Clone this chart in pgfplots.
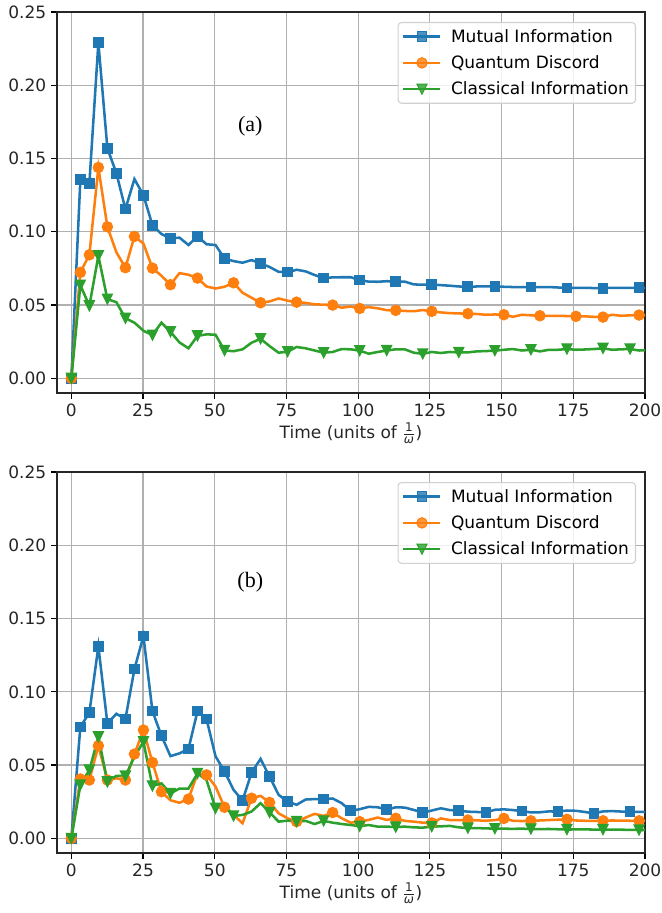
\documentclass[border=0pt]{standalone}
\usepackage{fontspec}
\setmainfont{DejaVu Sans}
\newfontfamily\panelfont{Liberation Serif}
\usepackage{pgfplots}
\usepackage{pgfplotstable}
\pgfplotsset{compat=1.18}

\definecolor{miblue}{HTML}{1F77B4}
\definecolor{qdorange}{HTML}{FF7F0E}
\definecolor{cigreen}{HTML}{2CA02C}
\definecolor{gridgray}{HTML}{B0B0B0}

% downward triangle, as drawn by matplotlib's 'v' marker
\pgfdeclareplotmark{vtri}{%
  \pgfpathmoveto{\pgfqpoint{0pt}{-\pgfplotmarksize}}%
  \pgfpathlineto{\pgfqpoint{-\pgfplotmarksize}{\pgfplotmarksize}}%
  \pgfpathlineto{\pgfqpoint{\pgfplotmarksize}{\pgfplotmarksize}}%
  \pgfpathclose
  \pgfusepathqfillstroke}

% time (in units of 1/omega) and the three correlations, case (a)
\pgfplotstableread{
t        mi      qd      ci
0        0       0       0
3.1416   0.1355  0.0723  0.0636
6.2832   0.1330  0.0843  0.0495
9.4248   0.2290  0.1439  0.0836
12.566   0.1570  0.1034  0.0540
15.708   0.1400  0.0860  0.0520
18.850   0.1155  0.0755  0.0410
21.991   0.1360  0.0968  0.0380
25.133   0.1250  0.0920  0.0325
28.274   0.1045  0.0752  0.0295
31.416   0.0985  0.0700  0.0380
34.558   0.0955  0.0639  0.0318
37.699   0.0960  0.0718  0.0245
40.841   0.0910  0.0707  0.0205
43.982   0.0970  0.0684  0.0290
47.124   0.0915  0.0627  0.0300
50.265   0.0910  0.0613  0.0298
53.407   0.0818  0.0625  0.0190
56.549   0.0800  0.0652  0.0185
59.690   0.0789  0.0584  0.0198
62.832   0.0807  0.0550  0.0243
65.973   0.0784  0.0516  0.0270
69.115   0.0760  0.0525  0.0220
72.257   0.0727  0.0545  0.0175
75.398   0.0725  0.0530  0.0182
78.540   0.0741  0.0520  0.0214
81.681   0.0730  0.0515  0.0205
84.823   0.0705  0.0505  0.0190
87.965   0.0684  0.0503  0.0175
91.106   0.0689  0.0500  0.0180
94.248   0.0690  0.0482  0.0200
97.389   0.0690  0.0490  0.0198
100.531  0.0670  0.0477  0.0189
103.673  0.0660  0.0486  0.0168
106.814  0.0659  0.0478  0.0180
109.956  0.0663  0.0465  0.0190
113.097  0.0659  0.0464  0.0198
116.239  0.0660  0.0460  0.0198
119.381  0.0641  0.0458  0.0175
122.522  0.0639  0.0466  0.0167
125.664  0.0641  0.0457  0.0180
128.805  0.0636  0.0450  0.0173
131.947  0.0632  0.0445  0.0180
135.088  0.0627  0.0443  0.0177
138.230  0.0625  0.0441  0.0177
141.372  0.0627  0.0439  0.0184
144.513  0.0627  0.0434  0.0186
147.655  0.0627  0.0436  0.0189
150.796  0.0625  0.0434  0.0195
153.938  0.0623  0.0420  0.0200
157.080  0.0623  0.0434  0.0190
160.221  0.0623  0.0430  0.0195
163.363  0.0622  0.0427  0.0184
166.504  0.0623  0.0427  0.0195
169.646  0.0620  0.0427  0.0195
172.788  0.0616  0.0425  0.0200
175.929  0.0618  0.0423  0.0195
179.071  0.0618  0.0423  0.0197
182.212  0.0616  0.0420  0.0200
185.354  0.0615  0.0418  0.0205
188.496  0.0618  0.0434  0.0195
191.637  0.0618  0.0427  0.0198
194.779  0.0618  0.0430  0.0200
197.920  0.0618  0.0432  0.0190
201.062  0.0618  0.0430  0.0192
}\caseA

% case (b)
\pgfplotstableread{
t        mi      qd      ci
0        0       0       0
3.1416   0.0761  0.0405  0.0364
6.2832   0.0857  0.0398  0.0466
9.4248   0.1310  0.0632  0.0693
12.566   0.0784  0.0398  0.0386
15.708   0.0850  0.0410  0.0427
18.850   0.0814  0.0398  0.0425
21.991   0.1155  0.0575  0.0557
25.133   0.1380  0.0739  0.0659
28.274   0.0868  0.0518  0.0357
31.416   0.0700  0.0318  0.0375
34.558   0.0561  0.0260  0.0307
37.699   0.0580  0.0243  0.0340
40.841   0.0610  0.0268  0.0340
43.982   0.0868  0.0443  0.0443
47.124   0.0815  0.0433  0.0398
50.265   0.0560  0.0354  0.0205
53.407   0.0457  0.0212  0.0228
56.549   0.0331  0.0160  0.0153
59.690   0.0258  0.0103  0.0160
62.832   0.0449  0.0274  0.0183
65.973   0.0542  0.0290  0.0240
69.115   0.0421  0.0245  0.0177
72.257   0.0297  0.0171  0.0114
75.398   0.0251  0.0137  0.0121
78.540   0.0229  0.0114  0.0115
81.681   0.0265  0.0142  0.0119
84.823   0.0268  0.0167  0.0098
87.965   0.0268  0.0153  0.0119
91.106   0.0272  0.0176  0.0107
94.248   0.0240  0.0137  0.0098
97.389   0.0188  0.0107  0.0091
100.531  0.0199  0.0114  0.0083
103.673  0.0215  0.0126  0.0091
106.814  0.0212  0.0142  0.0080
109.956  0.0196  0.0126  0.0080
113.097  0.0212  0.0137  0.0077
116.239  0.0210  0.0119  0.0080
119.381  0.0194  0.0114  0.0075
122.522  0.0176  0.0107  0.0073
125.664  0.0190  0.0105  0.0080
128.805  0.0205  0.0136  0.0082
131.947  0.0193  0.0125  0.0085
135.088  0.0189  0.0125  0.0075
138.230  0.0182  0.0125  0.0070
141.372  0.0180  0.0123  0.0070
144.513  0.0177  0.0120  0.0068
147.655  0.0195  0.0125  0.0066
150.796  0.0198  0.0136  0.0066
153.938  0.0193  0.0120  0.0065
157.080  0.0186  0.0118  0.0066
160.221  0.0177  0.0120  0.0064
163.363  0.0178  0.0122  0.0063
166.504  0.0184  0.0125  0.0064
169.646  0.0182  0.0127  0.0062
172.788  0.0190  0.0130  0.0060
175.929  0.0188  0.0122  0.0061
179.071  0.0180  0.0120  0.0061
182.212  0.0170  0.0120  0.0060
185.354  0.0184  0.0120  0.0060
188.496  0.0186  0.0122  0.0059
191.637  0.0183  0.0121  0.0059
194.779  0.0182  0.0120  0.0058
197.920  0.0180  0.0120  0.0057
201.062  0.0180  0.0120  0.0057
}\caseB

\pgfplotsset{
  corrpanel/.style={
    scale only axis,
    width=441pt, height=285.75pt,
    xmin=-5, xmax=200, ymin=-0.01, ymax=0.25,
    xtick={0,25,50,75,100,125,150,175,200},
    ytick={0,0.05,0.10,0.15,0.20,0.25},
    scaled y ticks=false,
    xtick pos=bottom, ytick pos=left,
    tick align=outside,
    major tick length=4.5pt,
    every tick/.style={black, line width=0.9pt},
    axis line style={black!85, line width=0.9pt},
    grid=major,
    major grid style={gridgray, line width=0.9pt},
    font=\fontsize{12.75}{15}\selectfont,
    xticklabel style={/pgf/number format/assume math mode=true, text=black!85},
    yticklabel style={/pgf/number format/.cd, fixed, fixed zerofill,
      precision=2, assume math mode=true, /tikz/.cd, text=black!85},
    xlabel={Time (units of $\frac{\mbox{\fontsize{9}{9}\selectfont 1}}{\mbox{\fontsize{9}{9}\selectfont\itshape ω}}$)},
    xlabel style={text=black!85, yshift=2pt},
    legend cell align=left,
    legend style={at={(1,1)}, anchor=north east, xshift=-6.75pt, yshift=-7.5pt,
      draw=black!18, line width=0.8pt, rounded corners=2.5pt,
      fill=white, fill opacity=0.8, text opacity=1,
      font=\fontsize{12.75}{15}\selectfont, text=black,
      row sep=4.5pt, inner xsep=3pt, inner ysep=3pt,
      /tikz/every odd column/.append style={column sep=5pt}},
    legend image code/.code={%
      \draw[mark indices={2}]
        plot coordinates {(0pt,0pt) (13.9pt,0pt) (27.75pt,0pt)};},
    clip=true,
  },
  mi/.style={miblue, line width=1.9pt, mark=square*, mark size=3.6pt,
    mark options={solid, line width=0.8pt, fill=miblue}},
  qd/.style={qdorange, line width=1.9pt, mark=*, mark size=3.9pt,
    mark options={solid, line width=0.8pt, fill=qdorange}},
  ci/.style={cigreen, line width=1.9pt, mark=vtri, mark size=3.8pt,
    mark options={solid, line width=0.8pt, fill=cigreen}},
}

\begin{document}
\begin{tikzpicture}
\useasboundingbox (-42.75pt,-390pt) rectangle (453pt,294.75pt);

\begin{axis}[corrpanel]
  \addplot[mi, mark indices={1,2,3,4,5,6,7,9,10,12,15,18,22,25,29,33,37,41,45,48,52,56,60,64}]
    table[x=t, y=mi] {\caseA};
  \addlegendentry{Mutual Information}
  \addplot[qd, mark indices={1,2,3,4,5,7,8,10,12,15,19,22,26,30,33,37,41,45,49,53,57,60,64}]
    table[x=t, y=qd] {\caseA};
  \addlegendentry{Quantum Discord}
  \addplot[ci, mark indices={1,2,3,4,5,7,10,12,15,18,22,25,29,33,36,40,44,48,52,56,60,63}]
    table[x=t, y=ci] {\caseA};
  \addlegendentry{Classical Information}
  \node[font=\panelfont\fontsize{16.5}{16.5}\selectfont] at (axis cs:62.4,0.172) {(a)};
\end{axis}

\begin{axis}[corrpanel, at={(0pt,-345pt)}]
  \addplot[mi, mark indices={1,2,3,4,5,7,8,9,10,11,14,15,16,18,20,21,23,25,29,32,36,40,44,47,51,55,59,63}]
    table[x=t, y=mi] {\caseB};
  \addlegendentry{Mutual Information}
  \addplot[qd, mark indices={1,2,3,4,5,7,8,9,10,11,14,16,18,21,23,26,30,33,37,41,45,49,52,56,60,64}]
    table[x=t, y=qd] {\caseB};
  \addlegendentry{Quantum Discord}
  \addplot[ci, mark indices={1,2,3,4,5,7,9,10,12,15,17,19,23,26,29,33,37,41,45,48,52,56,60,64}]
    table[x=t, y=ci] {\caseB};
  \addlegendentry{Classical Information}
  \node[font=\panelfont\fontsize{16.5}{16.5}\selectfont] at (axis cs:62.4,0.175) {(b)};
\end{axis}
\end{tikzpicture}
\end{document}
